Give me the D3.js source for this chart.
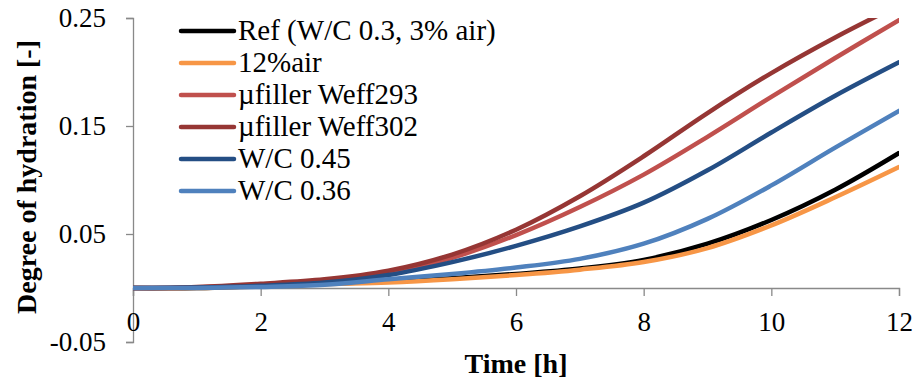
<!DOCTYPE html>
<html><head><meta charset="utf-8">
<script src="https://cdn.jsdelivr.net/npm/d3@7"></script>
<style>body{margin:0;background:#fff}svg{display:block}</style>
</head><body>
<svg id="chart" width="914" height="383"></svg>
<script>
const time = [0,1,2,3,4,5,6,7,8,9,10,11,12];
const seriesNames = ["Ref (W/C 0.3, 3% air)","12%air","\u00b5filler Weff293","\u00b5filler Weff302","W/C 0.45","W/C 0.36"];
const ref      = [0,0,0.002,0.004,0.006,0.009,0.013,0.018,0.026,0.041,0.063,0.091,0.125];
const air12    = [0,0,0.0015,0.0035,0.005,0.008,0.012,0.017,0.024,0.037,0.058,0.084,0.112];
const mu293    = [0,0.0005,0.003,0.007,0.014,0.028,0.049,0.075,0.105,0.140,0.177,0.213,0.248];
const mu302    = [0,0.001,0.004,0.008,0.016,0.031,0.054,0.085,0.122,0.162,0.199,0.232,0.262];
const wc045    = [0,0.0005,0.002,0.005,0.012,0.024,0.039,0.057,0.079,0.109,0.144,0.178,0.209];
const wc036    = [0,0,0.001,0.003,0.008,0.013,0.019,0.027,0.041,0.064,0.095,0.130,0.164];
const xTicks = [0,2,4,6,8,10,12];
const yTicks = [-0.05,0.05,0.15,0.25];
const colors = ["#000000","#F79646","#C0504D","#963634","#244E84","#4F81BD"];
const allSeries = [ref,air12,mu293,mu302,wc045,wc036];

const svg = d3.select("#chart");
const L=133,R=899,T=18,B=342;
const x = d3.scaleLinear().domain([0,12]).range([L,R]);
const y = d3.scaleLinear().domain([-0.05,0.25]).range([B,T]);
const axisColor="#898989";
const serif = "Liberation Serif";

svg.append("defs").append("clipPath").attr("id","clip")
  .append("rect").attr("x",L).attr("y",T).attr("width",R-L).attr("height",B-T);

// y axis
const ya = svg.append("g").attr("transform",`translate(${L},0)`)
  .call(d3.axisLeft(y).tickValues(yTicks).tickSize(7).tickPadding(20)
  .tickFormat(d=>d3.format(".2f")(d).replace("\u2212","-")));
ya.attr("font-family",null).attr("font-size",null);
ya.select(".domain").attr("stroke",axisColor).attr("stroke-width",1.3);
ya.selectAll(".tick line").attr("stroke",axisColor).attr("stroke-width",1.3);
ya.selectAll(".tick text").attr("font-family",serif).attr("font-size",27).attr("fill","#000").attr("dy","0.33em");

// x axis crossing at y = 0, labels at the bottom
const xa = svg.append("g").attr("transform",`translate(0,${y(0)})`)
  .call(d3.axisBottom(x).tickValues(xTicks).tickSize(8).tickFormat(d3.format("d")));
xa.attr("font-family",null).attr("font-size",null);
xa.select(".domain").attr("stroke",axisColor).attr("stroke-width",1.3);
xa.selectAll(".tick line").attr("stroke",axisColor).attr("stroke-width",1.3);
xa.selectAll(".tick text").attr("font-family",serif).attr("font-size",27).attr("fill","#000")
  .attr("y",331-y(0)).attr("dy",null);

// lines
const line = d3.line().x((d,i)=>x(time[i])).y(d=>y(d)).curve(d3.curveCatmullRom.alpha(0.5));
const lg = svg.append("g").attr("clip-path","url(#clip)");
allSeries.forEach((s,i)=>{
  lg.append("path").datum(s).attr("d",line).attr("fill","none")
    .attr("stroke",colors[i]).attr("stroke-width",4.5).attr("stroke-linecap","round");
});

// legend
const leg = svg.append("g");
seriesNames.forEach((n,i)=>{
  const ly = 31 + i*32;
  leg.append("line").attr("x1",181).attr("x2",234).attr("y1",ly).attr("y2",ly)
    .attr("stroke",colors[i]).attr("stroke-width",4.5).attr("stroke-linecap","round");
  leg.append("text").attr("x",238).attr("y",ly+9).attr("font-size",29).attr("font-family",serif).text(n);
});

// titles
svg.append("text").attr("x",516).attr("y",373).attr("text-anchor","middle").attr("font-family",serif)
  .attr("font-size",28).attr("font-weight","bold").text("Time [h]");
svg.append("text").attr("transform","translate(36,177) rotate(-90)").attr("text-anchor","middle").attr("font-family",serif)
  .attr("font-size",28).attr("font-weight","bold").text("Degree of hydration [-]");
</script>
</body></html>
